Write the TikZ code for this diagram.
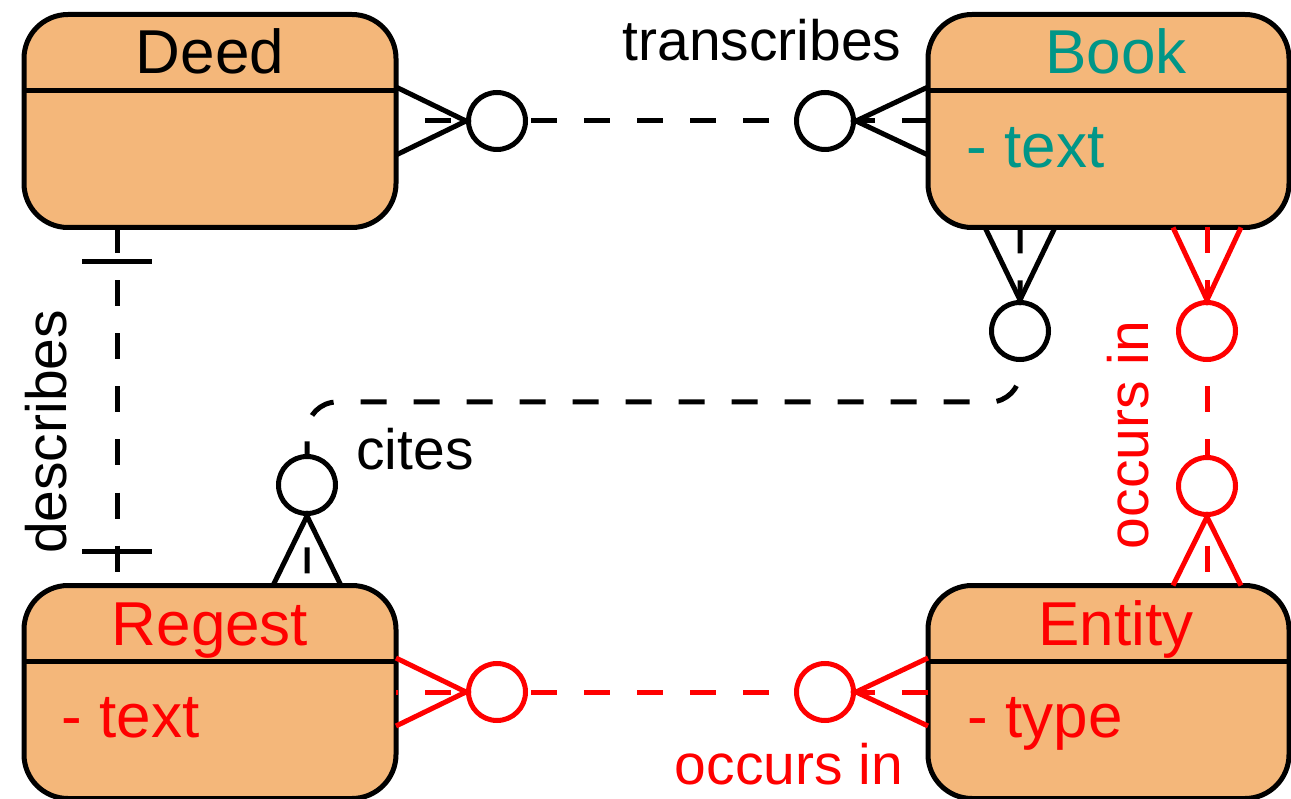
\documentclass[tikz,border=0pt]{standalone}
\usepackage{fontspec}
\setmainfont{Liberation Sans}
\definecolor{boxfill}{RGB}{244,183,122}
\definecolor{bookteal}{RGB}{0,150,136}
\definecolor{relred}{RGB}{255,0,0}
\begin{document}
\begin{tikzpicture}[x=1pt, y=-1pt, line width=5pt,
  entity/.style={draw, fill=boxfill, rounded corners=44pt, minimum width=#1,
                 minimum height=213pt, inner sep=0pt, outer sep=0pt},
  ename/.style={anchor=base, font=\fontsize{62}{70}\selectfont},
  eattr/.style={anchor=base west, font=\fontsize{62}{70}\selectfont},
  rlabel/.style={font=\fontsize{57}{64}\selectfont, inner sep=0pt},
  rel/.style={dash pattern=on 26pt off 27pt},
  zero/.style={circle, draw, fill=white, minimum size=57pt, inner sep=0pt}
]
  \useasboundingbox (0,0) rectangle (1291,799);
  \node[entity=372pt] (deed)   at (210,121)    {};
  \node[entity=361pt] (book)   at (1108.5,121) {};
  \node[entity=372pt] (regest) at (210,692)    {};
  \node[entity=361pt] (ent)    at (1108.5,692) {};
  \foreach \b in {deed,book,regest,ent}
    \draw ([yshift=-76pt]\b.north west) -- ([yshift=-76pt]\b.north east);
  \node[ename] (deedname) at (210,74) {Deed};
  \node[ename, text=bookteal] (bookname) at (1116,74)  {Book};
  \node[eattr, text=bookteal] (booktext) at (961,168)  {- text};
  \node[ename, text=relred] (regestname) at (210,645)  {Regest};
  \node[eattr, text=relred] (regesttext) at (56,737)   {- text};
  \node[ename, text=relred] (entname)    at (1116,645) {Entity};
  \node[eattr, text=relred] (enttype)    at (962,737)  {- type};
  % transcribes
  \draw[rel, dash phase=24pt] (deed.east) -- (book.west);
  \node[zero] (trdeed) at (497,121) {};
  \node[zero] (trbook) at (825,121) {};
  \draw ([yshift=34pt]deed.east) -- (trdeed.west) -- ([yshift=-34pt]deed.east);
  \draw ([yshift=34pt]book.west) -- (trbook.east) -- ([yshift=-34pt]book.west);
  \node[rlabel, anchor=base] (trlabel) at (762,61) {transcribes};
  % describes
  \coordinate (dstop) at ([xshift=-93pt]deed.south);
  \coordinate (dsbot) at ([xshift=-93pt]regest.north);
  \draw[rel] (dstop) -- (dsbot);
  \draw ([shift={(-35,34)}]dstop) -- ([shift={(35,34)}]dstop);
  \draw ([shift={(-35,-34)}]dsbot) -- ([shift={(35,-34)}]dsbot);
  \node[rlabel, anchor=base, rotate=90] (dslabel) at (66,432) {describes};
  % cites
  \coordinate (cttop) at ([xshift=-88.5pt]book.south);
  \coordinate (ctbot) at ([xshift=97pt]regest.north);
  \draw[rel, rounded corners=30pt] (cttop) -- (cttop |- 0,402)
        -- (ctbot |- 0,402) -- (ctbot);
  \node[zero] (ctbook)   at (1020,331) {};
  \node[zero] (ctregest) at (307,485)  {};
  \draw ([xshift=-35pt]cttop) -- (ctbook.north) -- ([xshift=35pt]cttop);
  \draw ([xshift=-34pt]ctbot) -- (ctregest.south) -- ([xshift=34pt]ctbot);
  \node[rlabel, anchor=base] (ctlabel) at (415,469) {cites};
  % occurs in
  \coordinate (octop) at ([xshift=98.5pt]book.south);
  \coordinate (ocbot) at ([xshift=98.5pt]ent.north);
  \draw[rel, relred] (octop) -- (ocbot);
  \node[zero, draw=relred] (ocbook) at (1207,331) {};
  \node[zero, draw=relred] (ocent)  at (1207,486) {};
  \draw[relred] ([xshift=-34pt]octop) -- (ocbook.north) -- ([xshift=34pt]octop);
  \draw[relred] ([xshift=-34pt]ocbot) -- (ocent.south) -- ([xshift=34pt]ocbot);
  \node[rlabel, anchor=base, rotate=90, text=relred] (oclabel) at (1148,435) {occurs in};
  \draw[rel, dash phase=24pt, relred] (regest.east) -- (ent.west);
  \node[zero, draw=relred] (orregest) at (497,692) {};
  \node[zero, draw=relred] (orent)    at (825,692) {};
  \draw[relred] ([yshift=34pt]regest.east) -- (orregest.west) -- ([yshift=-34pt]regest.east);
  \draw[relred] ([yshift=34pt]ent.west) -- (orent.east) -- ([yshift=-34pt]ent.west);
  \node[rlabel, anchor=base, text=relred] (orlabel) at (789,784) {occurs in};
\end{tikzpicture}
\end{document}
